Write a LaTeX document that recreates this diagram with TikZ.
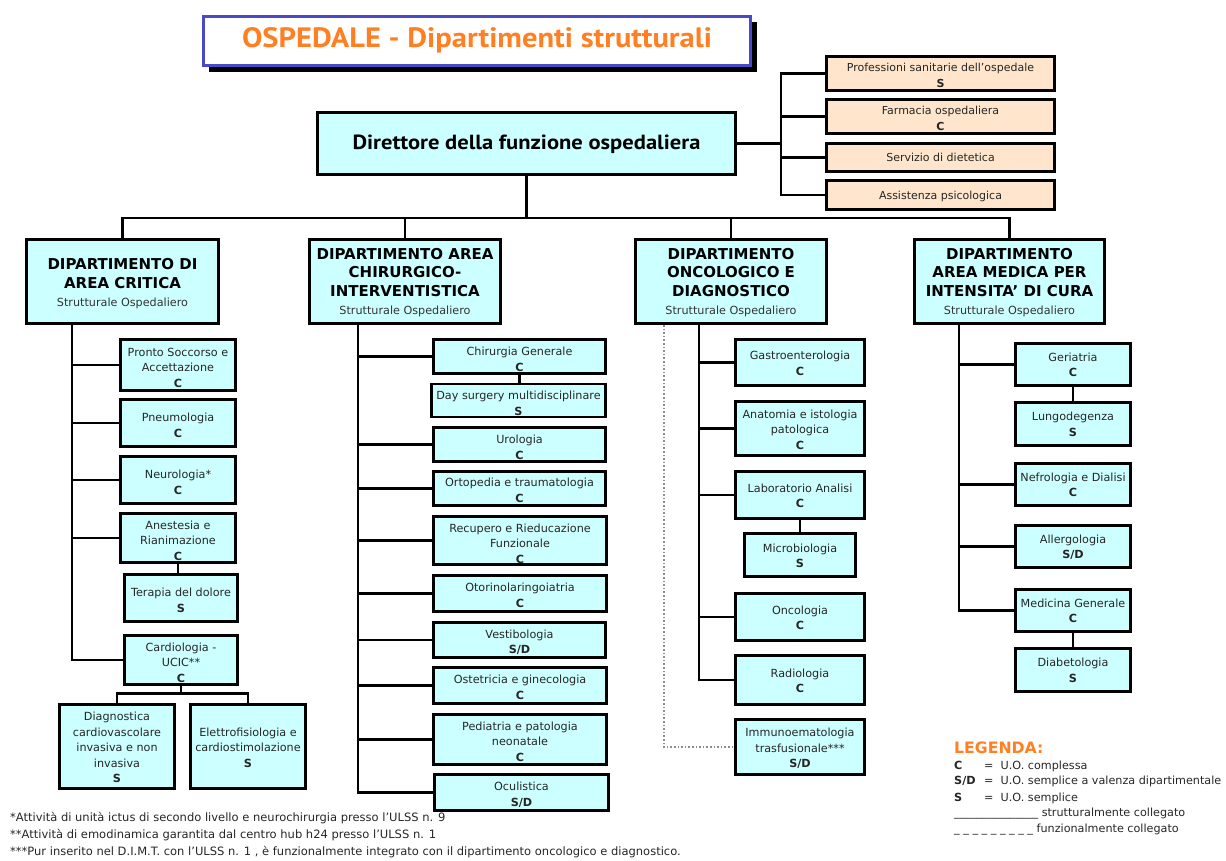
\documentclass[tikz,border=0pt]{standalone}
\usepackage{fontspec}
\setmainfont{DejaVu Sans}
\newfontfamily\headfont{PT Sans}
\usetikzlibrary{shadows}

\definecolor{unitfill}{HTML}{CCFFFF}
\definecolor{stafffill}{HTML}{FFE5CC}
\definecolor{ttlorange}{HTML}{FF7F22}
\definecolor{ttlblue}{HTML}{4A4AC8}

% centred lines, drawn #1 lower than the box would centre them
\newcommand{\dropped}[2]{\raisebox{-#1}[\height][\depth]{%
  \begin{tabular}{@{}c@{}}#2\end{tabular}}}

% box from its outer corners (x1,y1)-(x2,y2), y measured downwards
\newcommand{\orgbox}[8][2pt]{%
  \pgfmathsetmacro\obw{#6-#4-2.8}%
  \pgfmathsetmacro\obh{#7-#5-2.8}%
  \node[#2, minimum width=\obw pt, minimum height=\obh pt] (#3)
    at ({(#4+#6)/2},{(#5+#7)/2}) {\dropped{#1}{#8}};}

\begin{document}
\begin{tikzpicture}[x=1pt,y=-1pt,
  unit/.style={draw=black, line width=2.8pt, fill=unitfill, align=center,
    inner sep=1pt, text=black!85, font=\fontsize{11.2}{15.5}\selectfont},
  staff/.style={unit, fill=stafffill, font=\fontsize{11}{15.5}\selectfont},
  dept/.style={unit, text=black, font=\fontsize{15}{18.5}\selectfont\bfseries},
  chief/.style={unit, text=black, font=\headfont\fontsize{20.5}{24}\selectfont\bfseries},
  titlebox/.style={draw=ttlblue, line width=2.6pt, fill=white, text=ttlorange,
    font=\headfont\fontsize{28}{32}\selectfont\bfseries,
    drop shadow={shadow xshift=6pt, shadow yshift=-6pt, fill=black, opacity=1}},
  wire/.style={line width=2.8pt},
  linkwire/.style={draw=black!45, line width=1.6pt, dotted},
  legtitle/.style={anchor=west, inner sep=0pt, text=ttlorange,
    font=\fontsize{15.7}{18}\selectfont\bfseries},
  legrow/.style={anchor=west, inner sep=0pt, text=black!85,
    font=\fontsize{11.2}{13}\selectfont},
  note/.style={anchor=west, inner sep=0pt, text=black!85,
    font=\fontsize{11.5}{13}\selectfont}
]
\useasboundingbox (0,0) rectangle (1226,860);

% ---- title and top management ----
\orgbox[0pt]{titlebox}{title}{202}{15}{752}{67}{\scalebox{1.09}[1]{OSPEDALE - Dipartimenti strutturali}}
\orgbox[1pt]{chief}{dir}{316}{111}{737}{176}{\scalebox{1.1}[1]{Direttore della funzione ospedaliera}}

\orgbox[3pt]{staff}{prof}{825}{55}{1056}{92}{Professioni sanitarie dell'ospedale\\\textbf{S}}
\orgbox[3pt]{staff}{farm}{825}{98}{1056}{135}{Farmacia ospedaliera\\\textbf{C}}
\orgbox[1pt]{staff}{diet}{825}{142}{1056}{173}{Servizio di dietetica}
\orgbox[1pt]{staff}{psic}{825}{179}{1056}{211}{Assistenza psicologica}

% ---- departments ----
\newcommand{\subttl}{\fontsize{11.2}{12}\selectfont\mdseries\color{black!80}Strutturale Ospedaliero}
\orgbox[3pt]{dept}{d1}{25}{238}{220}{325}{DIPARTIMENTO DI\\AREA CRITICA\\\subttl}
\orgbox[2pt]{dept}{d2}{308}{238}{502}{325}{DIPARTIMENTO AREA\\CHIRURGICO-\\INTERVENTISTICA\\\subttl}
\orgbox[2pt]{dept}{d3}{634}{238}{828}{325}{DIPARTIMENTO\\ONCOLOGICO E\\DIAGNOSTICO\\\subttl}
\orgbox[2pt]{dept}{d4}{913}{238}{1106}{325}{DIPARTIMENTO\\AREA MEDICA PER\\INTENSITA’ DI CURA\\\subttl}

% ---- area critica ----
\orgbox[3.5pt]{unit}{pronto}{119}{338}{237}{392}{Pronto Soccorso e\\Accettazione\\\textbf{C}}
\orgbox[3.5pt]{unit}{pneumo}{119}{398}{237}{448}{Pneumologia\\\textbf{C}}
\orgbox[3.5pt]{unit}{neuro}{119}{455}{237}{505}{Neurologia*\\\textbf{C}}
\orgbox[3.5pt]{unit}{anest}{119}{513}{237}{563}{Anestesia e\\Rianimazione\\\textbf{C}}
\orgbox[3.5pt]{unit}{terap}{123}{573}{239}{623}{Terapia del dolore\\\textbf{S}}
\orgbox[3.5pt]{unit}{cardio}{123}{635}{239}{685}{Cardiologia -\\UCIC**\\\textbf{C}}
\orgbox[2pt]{unit}{diagn}{58}{703}{176}{790}{Diagnostica\\cardiovascolare\\invasiva e non\\invasiva\\\textbf{S}}
\orgbox[2pt]{unit}{elettro}{189}{703}{307}{790}{Elettrofisiologia e\\cardiostimolazione\\\textbf{S}}

% ---- area chirurgico-interventistica ----
\orgbox[4pt]{unit}{chir}{432}{338}{607}{375}{Chirurgia Generale\\\textbf{C}}
\orgbox[4pt]{unit}{daysurg}{430}{383}{607}{418}{Day surgery multidisciplinare\\\textbf{S}}
\orgbox[4pt]{unit}{uro}{432}{426}{607}{463}{Urologia\\\textbf{C}}
\orgbox[3pt]{unit}{orto}{432}{470}{607}{507}{Ortopedia e traumatologia\\\textbf{C}}
\orgbox[4pt]{unit}{recup}{432}{515}{608}{566}{Recupero e Rieducazione\\Funzionale\\\textbf{C}}
\orgbox[3pt]{unit}{otor}{432}{574}{608}{613}{Otorinolaringoiatria\\\textbf{C}}
\orgbox[3pt]{unit}{vest}{432}{621}{607}{659}{Vestibologia\\\textbf{S/D}}
\orgbox[3pt]{unit}{oste}{432}{666}{608}{705}{Ostetricia e ginecologia\\\textbf{C}}
\orgbox[3pt]{unit}{pedi}{432}{713}{608}{766}{Pediatria e patologia\\neonatale\\\textbf{C}}
\orgbox[3pt]{unit}{ocul}{433}{773}{610}{812}{Oculistica\\\textbf{S/D}}

% ---- oncologico e diagnostico ----
\orgbox{unit}{gastro}{734}{338}{866}{387}{Gastroenterologia\\\textbf{C}}
\orgbox{unit}{anat}{734}{400}{866}{457}{Anatomia e istologia\\patologica\\\textbf{C}}
\orgbox{unit}{lab}{734}{470}{866}{520}{Laboratorio Analisi\\\textbf{C}}
\orgbox{unit}{micro}{743}{532}{857}{578}{Microbiologia\\\textbf{S}}
\orgbox{unit}{onco}{734}{592}{866}{642}{Oncologia\\\textbf{C}}
\orgbox{unit}{radio}{734}{654}{866}{706}{Radiologia\\\textbf{C}}
\orgbox{unit}{immuno}{734}{718}{866}{776}{Immunoematologia\\trasfusionale***\\\textbf{S/D}}

% ---- area medica per intensita' di cura ----
\orgbox[1.5pt]{unit}{geri}{1014}{342}{1132}{387}{Geriatria\\\textbf{C}}
\orgbox[1.5pt]{unit}{lungo}{1014}{401}{1132}{447}{Lungodegenza\\\textbf{S}}
\orgbox[1.5pt]{unit}{nefro}{1014}{462}{1132}{507}{Nefrologia e Dialisi\\\textbf{C}}
\orgbox[1.5pt]{unit}{allerg}{1014}{524}{1132}{569}{Allergologia\\\textbf{S/D}}
\orgbox[1.5pt]{unit}{medgen}{1014}{588}{1132}{633}{Medicina Generale\\\textbf{C}}
\orgbox[1.5pt]{unit}{diab}{1014}{647}{1132}{693}{Diabetologia\\\textbf{S}}

% ---- connectors ----
\coordinate (bus) at (0,218);
\coordinate (stf) at (781,143.5);
\coordinate (t1) at (72,325);
\coordinate (t2) at (358,325);
\coordinate (t3) at (699,325);
\coordinate (t4) at (959,325);
\coordinate (lk) at (664,325);

\draw[wire] (dir.south) -- (dir.south |- bus);
\draw[wire] (d1.north) -- (d1.north |- bus) -- (d4.north |- bus) -- (d4.north);
\draw[wire] (d2.north) -- (d2.north |- bus);
\draw[wire] (d3.north) -- (d3.north |- bus);

\draw[wire] (dir.east |- stf) -- (stf);
\foreach \s in {prof,farm,diet,psic} \draw[wire] (stf) |- (\s.west);

\foreach \u in {pronto,pneumo,neuro,anest,cardio} \draw[wire] (t1) |- (\u.west);
\draw[wire] (anest.south) -- (anest.south |- terap.north);
\draw[wire] (cardio.south) -- ++(0,8) coordinate (cb) -| (diagn.north);
\draw[wire] (cb) -| (elettro.north);

\foreach \u in {chir,uro,orto,recup,otor,vest,oste,pedi,ocul} \draw[wire] (t2) |- (\u.west);
\draw[wire] (chir.south) -- (chir.south |- daysurg.north);

\foreach \u in {gastro,anat,lab,onco,radio} \draw[wire] (t3) |- (\u.west);
\draw[wire] (lab.south) -- (lab.south |- micro.north);
\draw[linkwire] (lk) |- (immuno.west);

\foreach \u in {geri,nefro,allerg,medgen} \draw[wire] (t4) |- (\u.west);
\draw[wire] (geri.south) -- (geri.south |- lungo.north);
\draw[wire] (medgen.south) -- (medgen.south |- diab.north);

% ---- legend ----
\node[legtitle] (legT) at (954,748) {LEGENDA:};
\node[legrow] (legC) at (954,766) {\makebox[30pt][l]{\textbf{C}}= \ U.O. complessa};
\node[legrow] (legSD) at (954,781) {\makebox[30pt][l]{\textbf{S/D}}= \ U.O. semplice a valenza dipartimentale};
\node[legrow] (legS) at (954,798) {\makebox[30pt][l]{\textbf{S}}= \ U.O. semplice};
\node[legrow] (legLs) at (954,814) {\_\_\_\_\_\_\_\_\_\_\_\_\_\_\_ strutturalmente collegato};
\node[legrow] (legLf) at (954,830) {\_ \_ \_ \_ \_ \_ \_ \_ \_ funzionalmente collegato};

% ---- footnotes ----
\node[note] (n1) at (10,818) {*Attività di unità ictus di secondo livello e neurochirurgia presso l'ULSS n. 9};
\node[note] (n2) at (10,835) {**Attività di emodinamica garantita dal centro hub h24 presso l'ULSS n. 1};
\node[note] (n3) at (10,852) {***Pur inserito nel D.I.M.T. con l'ULSS n. 1 , è funzionalmente integrato con il dipartimento oncologico e diagnostico.};
\end{tikzpicture}
\end{document}
